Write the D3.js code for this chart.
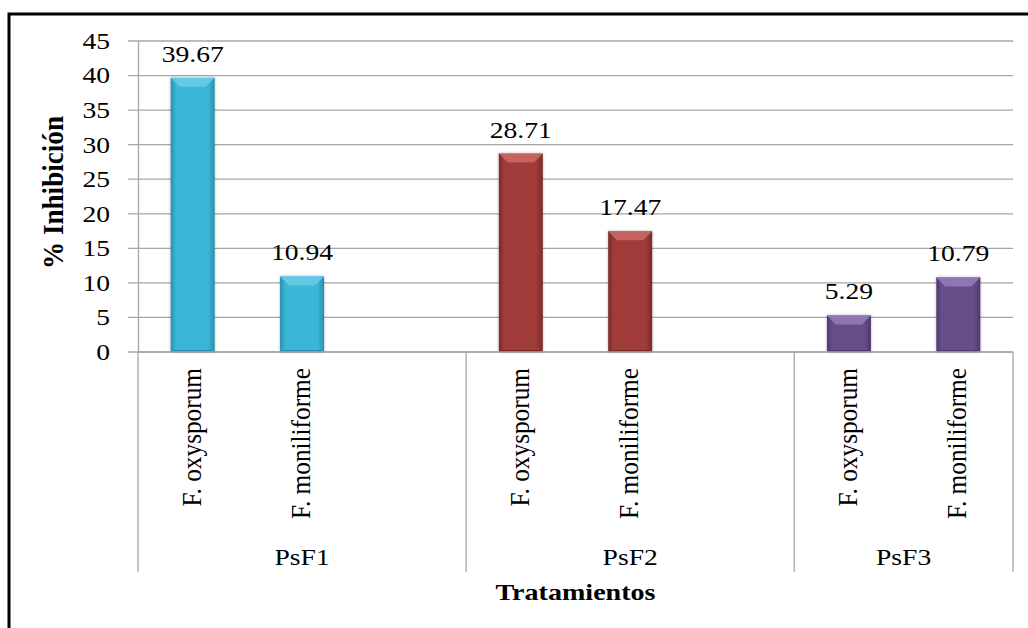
<!DOCTYPE html>
<html>
<head>
<meta charset="utf-8">
<script src="https://cdn.jsdelivr.net/npm/d3@7"></script>
<style>
  body { margin: 0; background: #fff; }
  svg text { font-family: "Liberation Serif", "Times New Roman", serif; fill: #000; }
</style>
</head>
<body>
<svg id="chart" width="1028" height="628"></svg>
<script>
// categories (Excel keeps an empty slot after PsF1 and PsF2)
const groups = ["PsF1", "PsF2", "PsF3"];
const slotLabels = ["F. oxysporum", "F. moniliforme", "", "F. oxysporum", "F. moniliforme", "", "F. oxysporum", "F. moniliforme"];
const slotGroup = ["PsF1", "PsF1", "PsF1", "PsF2", "PsF2", "PsF2", "PsF3", "PsF3"];
const psf1Values = [39.67, 10.94];
const psf2Values = [28.71, 17.47];
const psf3Values = [5.29, 10.79];
const yTicks = [0, 5, 10, 15, 20, 25, 30, 35, 40, 45];

const palette = {
    PsF1: { main: "#3bb6d8", dark: "#2a8fad", light: "#6fd0ea" },
    PsF2: { main: "#9f3b39", dark: "#7a2b29", light: "#cf6d69" },
    PsF3: { main: "#684d8b", dark: "#4f386c", light: "#9a80bd" }
};

const margin = { top: 41, left: 138, right: 15, bottom: 276 };
const width = 1028 - margin.left - margin.right;
const height = 628 - margin.top - margin.bottom;

// the original picture is stretched sideways, so text gets a scaleX
const sx = 1.2;

const svg = d3.select("#chart");

// outer frame
svg.append("path")
    .attr("d", "M9,640 L9,14 L1040,14")
    .attr("fill", "none")
    .attr("stroke", "#000")
    .attr("stroke-width", 3);

const slots = d3.range(slotLabels.length);
const x = d3.scaleBand().domain(slots).range([0, width]).padding(0);
const y = d3.scaleLinear().domain([0, 45]).range([height, 0]);

const g = svg.append("g").attr("transform", `translate(${margin.left},${margin.top})`);

// grid
g.append("g")
    .selectAll("line")
    .data(yTicks)
    .join("line")
    .attr("x1", -10)
    .attr("x2", width)
    .attr("y1", d => y(d))
    .attr("y2", d => y(d))
    .attr("stroke", "#a6a6a6")
    .attr("stroke-width", 1.3);

// y axis
const yAxis = g.append("g")
    .call(d3.axisLeft(y).tickValues(yTicks).tickSize(0).tickPadding(28));
yAxis.select(".domain").attr("stroke", "#a6a6a6").attr("stroke-width", 1.3);
yAxis.selectAll("text")
    .attr("x", 0)
    .attr("transform", `translate(-28,0) scale(${sx},1)`)
    .attr("font-family", "Liberation Serif")
    .attr("font-size", 23)
    .attr("fill", "#000");

// bar data
const groupValues = { PsF1: psf1Values, PsF2: psf2Values, PsF3: psf3Values };
const bars = [];
slots.forEach(i => {
    if (slotLabels[i] === "") return;
    const grp = slotGroup[i];
    const k = slotGroup.slice(0, i).filter(s => s === grp).length;
    bars.push({ slot: i, group: grp, value: groupValues[grp][k] });
});

// gradients
const defs = svg.append("defs");
groups.forEach(grp => {
    const c = palette[grp];
    const lg = defs.append("linearGradient")
        .attr("id", "grad-" + grp)
        .attr("x1", "0%").attr("x2", "100%").attr("y1", "0%").attr("y2", "0%");
    lg.append("stop").attr("offset", "0%").attr("stop-color", c.dark);
    lg.append("stop").attr("offset", "12%").attr("stop-color", c.main);
    lg.append("stop").attr("offset", "85%").attr("stop-color", c.main);
    lg.append("stop").attr("offset", "100%").attr("stop-color", c.dark);
});
const flt = defs.append("filter").attr("id", "shadow").attr("x", "-20%").attr("y", "-10%").attr("width", "140%").attr("height", "120%");
flt.append("feGaussianBlur").attr("in", "SourceAlpha").attr("stdDeviation", 1.5);
flt.append("feComponentTransfer").append("feFuncA").attr("type", "linear").attr("slope", 0.3);
const mrg = flt.append("feMerge");
mrg.append("feMergeNode");
mrg.append("feMergeNode").attr("in", "SourceGraphic");

const barW = 44;
const bevel = 9;
const barG = g.append("g");
bars.forEach(d => {
    const cx = x(d.slot) + x.bandwidth() / 2;
    const x0 = cx - barW / 2, x1 = cx + barW / 2;
    const yt = y(d.value), yb = y(0);
    const c = palette[d.group];
    const bg = barG.append("g").attr("filter", "url(#shadow)");
    bg.append("rect")
        .attr("x", x0).attr("y", yt)
        .attr("width", barW).attr("height", yb - yt)
        .attr("fill", `url(#grad-${d.group})`);
    const bv = Math.min(bevel, (yb - yt) / 2);
    bg.append("polygon")
        .attr("points", [[x0, yt], [x1, yt], [x1 - bv, yt + bv], [x0 + bv, yt + bv]].map(p => p.join(",")).join(" "))
        .attr("fill", c.light)
        .attr("opacity", 0.8);
    bg.append("polygon")
        .attr("points", [[x0, yb], [x1, yb], [x1 - 2, yb - 2], [x0 + 2, yb - 2]].map(p => p.join(",")).join(" "))
        .attr("fill", c.dark);

    g.append("text")
        .attr("transform", `translate(${cx},${yt - 16}) scale(${sx},1)`)
        .attr("text-anchor", "middle")
        .attr("font-size", 23)
        .text(d.value.toFixed(2));
});

// x axis baseline
g.append("line")
    .attr("x1", 0).attr("x2", width)
    .attr("y1", height).attr("y2", height)
    .attr("stroke", "#a6a6a6").attr("stroke-width", 1.3);

// group separators
const groupStarts = groups.map(grp => slotGroup.indexOf(grp));
const groupEnds = groups.map(grp => slotGroup.lastIndexOf(grp));
const sepX = groupStarts.map(i => x(i)).concat([width]);
g.append("g")
    .selectAll("line")
    .data(sepX)
    .join("line")
    .attr("x1", d => d).attr("x2", d => d)
    .attr("y1", height).attr("y2", height + 220)
    .attr("stroke", "#a6a6a6").attr("stroke-width", 1.3);

// category labels (rotated)
g.append("g")
    .selectAll("text")
    .data(slots.filter(i => slotLabels[i] !== ""))
    .join("text")
    .attr("transform", i => `translate(${x(i) + x.bandwidth() / 2 + 8},${height + 16}) rotate(-90) scale(1.15,${sx})`)
    .attr("text-anchor", "end")
    .attr("font-size", 22)
    .text(i => slotLabels[i]);

// group labels
g.append("g")
    .selectAll("text")
    .data(groups)
    .join("text")
    .attr("transform", (grp, k) => `translate(${(x(groupStarts[k]) + x(groupEnds[k]) + x.bandwidth()) / 2},${height + 213}) scale(${sx},1)`)
    .attr("text-anchor", "middle")
    .attr("font-size", 23)
    .text(grp => grp);

// axis titles
svg.append("text")
    .attr("transform", `translate(${margin.left + width / 2},600) scale(1.17,1)`)
    .attr("text-anchor", "middle")
    .attr("font-size", 24)
    .attr("font-weight", "bold")
    .text("Tratamientos");

svg.append("text")
    .attr("transform", `translate(63,${margin.top + height / 2 - 4}) rotate(-90) scale(1.13,${sx})`)
    .attr("text-anchor", "middle")
    .attr("font-size", 24)
    .attr("font-weight", "bold")
    .text("% Inhibición");
</script>
</body>
</html>
